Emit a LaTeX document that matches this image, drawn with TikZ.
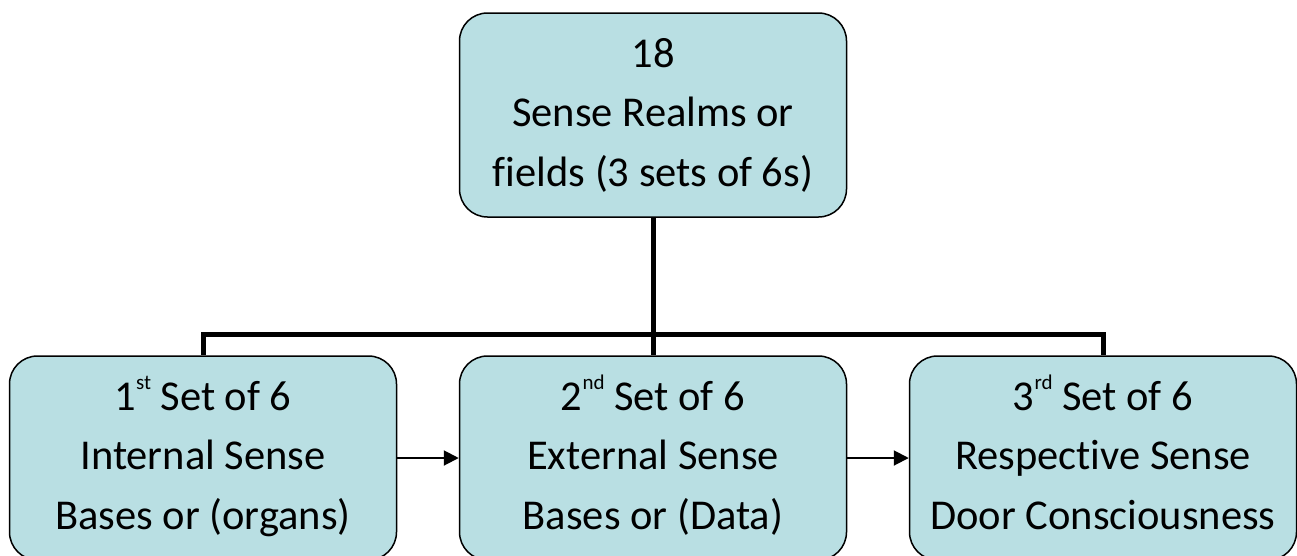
\documentclass[tikz,border=0pt]{standalone}
\usepackage{fontspec}
\setmainfont{Carlito}[Ligatures=CommonOff]
\usetikzlibrary{arrows.meta}
\definecolor{boxfill}{RGB}{185,223,227}
\newcommand\ordsup[1]{\raisebox{21pt}{\fontsize{21}{21}\selectfont #1}}
\begin{document}
\begin{tikzpicture}[x=1pt, y=-1pt,
  realm/.style={draw, line width=1.5pt, fill=boxfill, rounded corners=28pt,
    minimum width=387pt, minimum height=204pt, align=center,
    font=\fontsize{42.5}{59.5}\selectfont,
    text height=160.65pt, text depth=17.85pt},
  bus/.style={line width=5pt, line join=miter},
  flow/.style={line width=2pt, -{Triangle[length=15pt, width=15pt]}}]
\clip (0,0) rectangle (1297,555);
\node[realm] (top) at (653,115) {18\\Sense Realms or\\fields (3 sets of 6s)};
\node[realm] (left) at (203,458) {1\ordsup{st} Set of 6\\Internal Sense\\Bases or (organs)};
\node[realm] (mid) at (653,458) {2\ordsup{nd} Set of 6\\External Sense\\Bases or (Data)};
\node[realm] (right) at (1103,458) {3\ordsup{rd} Set of 6\\Respective Sense\\Door Consciousness};

\draw[bus] (top.south) -- ++(0,117) -| (left.north);
\draw[bus] (top.south) -- ++(0,117) -| (right.north);
\draw[bus] (top.south) -- (mid.north);

\draw[flow] (left.east) -- (mid.west);
\draw[flow] (mid.east) -- (right.west);
\end{tikzpicture}
\end{document}
